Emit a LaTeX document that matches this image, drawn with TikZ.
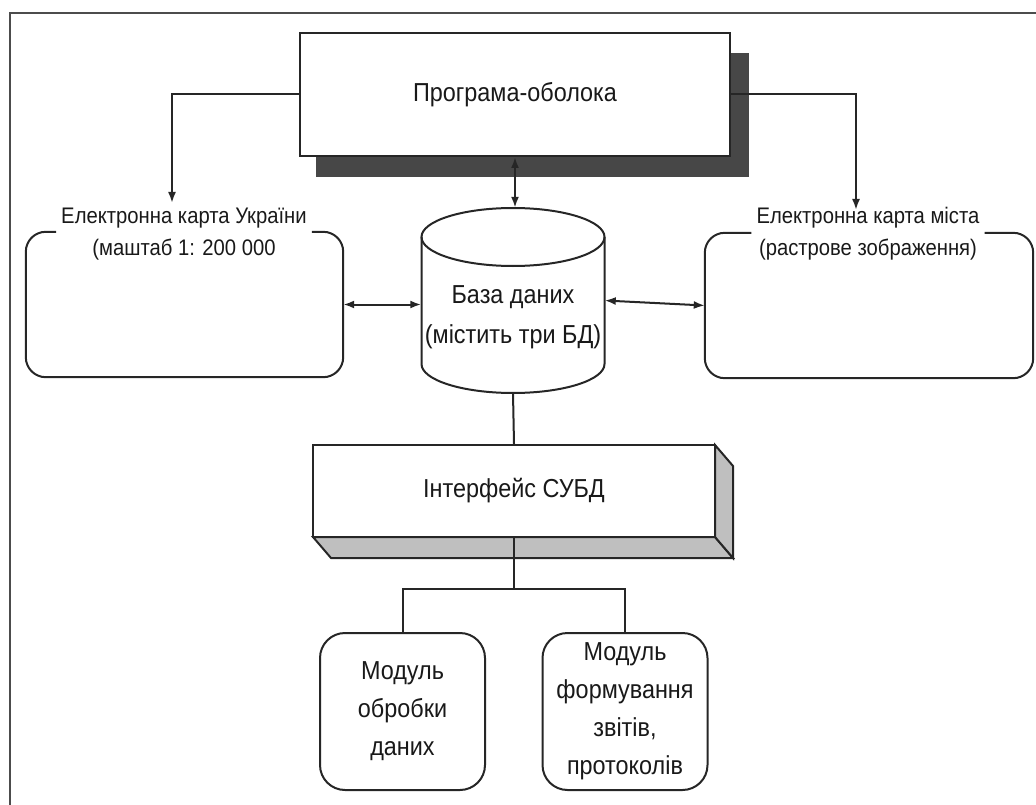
\documentclass[tikz,border=0pt]{standalone}
\usepackage{fontspec}
\setmainfont[FakeStretch=0.9]{Liberation Sans}
\usetikzlibrary{arrows.meta,calc}
\begin{document}
\begin{tikzpicture}[x=1pt,y=-1pt,
  ln/.style={line width=2pt, draw=black!85},
  arr/.style={ln, -{Latex[length=11pt,width=8pt]}},
  darr/.style={ln, {Latex[length=11pt,width=8pt]}-{Latex[length=11pt,width=8pt]}},
  big/.style={font=\fontsize{26}{40}\selectfont, text=black!90},
  lbl/.style={font=\fontsize{22.5}{32}\selectfont, text=black!90, align=center, inner xsep=5pt},
  modbox/.style={ln, draw, fill=white, rounded corners=25pt, minimum width=165pt, minimum height=157pt, align=center, font=\fontsize{26}{38}\selectfont, text=black!90}]
\useasboundingbox (0,0) rectangle (1036,805);
% frame
\draw[line width=1.8pt, black!70] (10,805) -- (10,13) -- (1036,13);

% program shell with shadow
\fill[black!72] (316,53) rectangle (749,177);
\node[ln, draw, fill=white, minimum width=430pt, minimum height=123pt, big] (prog) at (515,94.5) {Програма-оболока};

% database cylinder
\node[minimum width=183pt, minimum height=185pt] (db) at (513,300.5) {};
\draw[ln, fill=white] (421.5,237) -- (421.5,364) arc[start angle=180, end angle=360, x radius=91.5pt, y radius=29pt] -- (604.5,237);
\draw[ln] (513,237) ellipse [x radius=91.5pt, y radius=29pt];
\node[big, align=center] (dbt) at (513,317) {База даних\\(містить три БД)};

% map of Ukraine
\node[minimum width=317pt, minimum height=145pt] (ua) at (184.5,304.5) {};
\node[lbl] (uat) at (184,234) {Електронна карта України\\(маштаб 1: 200 000};
\draw[ln, rounded corners=20pt] (uat.west |- ua.north) -- (ua.north west) -- (ua.south west) -- (ua.south east) -- (ua.north east) -- (uat.east |- ua.north);

% city map
\node[minimum width=328pt, minimum height=145pt] (mc) at (869,305.5) {};
\node[lbl] (mct) at (868,234) {Електронна карта міста\\(растрове зображення)};
\draw[ln, rounded corners=20pt] (mct.west |- mc.north) -- (mc.north west) -- (mc.south west) -- (mc.south east) -- (mc.north east) -- (mct.east |- mc.north);

% DBMS interface (3D block)
\draw[ln, fill=black!25] (313,537) -- (331,558) -- (733,558) -- (715,537) -- cycle;
\draw[ln, fill=black!25] (715,445) -- (733,466) -- (733,558) -- (715,537) -- cycle;
\node[ln, draw, fill=white, minimum width=402pt, minimum height=92pt, big] (ifc) at (514,491) {Інтерфейс СУБД};

% modules
\node[modbox] (m1) at (402.5,711.5) {Модуль\\обробки\\даних};
\node[modbox] (m2) at (625,711.5) {Модуль\\формування\\звітів,\\протоколів};

% connectors
\coordinate (uain) at (172,203);
\coordinate (mcin) at (856,210);
\coordinate (split) at (514,589);
\draw[arr] (prog.west) -| (uain);
\draw[arr] (prog.east) -| (mcin);
\draw[darr] (prog.south) -- (prog.south |- db.north);
\draw[darr] (ua.east) -- (ua.east -| db.west);
\draw[darr] (db.east) -- (mc.west);
\draw[ln] (db.south) -- (ifc.north);
\draw[ln] (ifc.south) -- (split);
\draw[ln] (split) -| (m1.north);
\draw[ln] (split) -| (m2.north);
\end{tikzpicture}
\end{document}
